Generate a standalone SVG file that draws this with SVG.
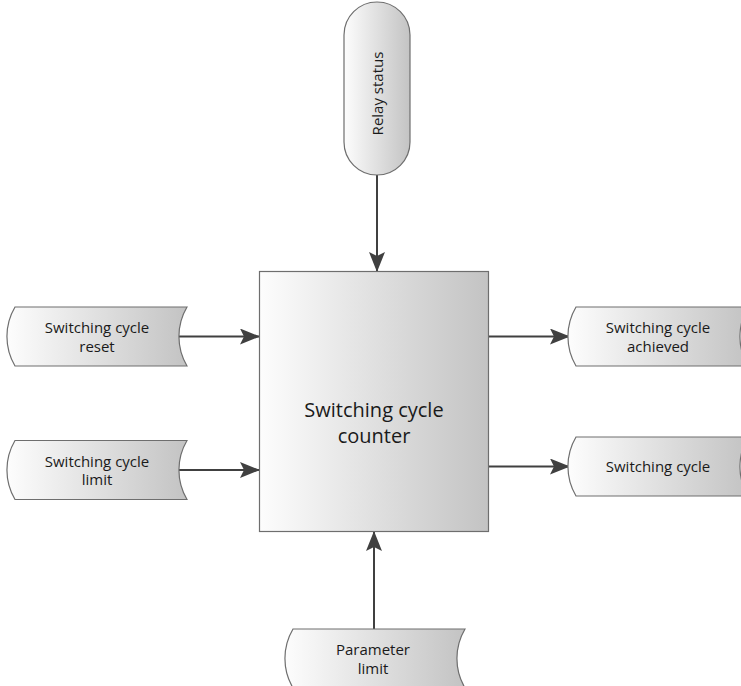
<svg xmlns="http://www.w3.org/2000/svg" width="741" height="686" viewBox="0 0 741 686">
<defs>
<linearGradient id="g" x1="0" y1="0" x2="1" y2="0">
<stop offset="0" stop-color="#fdfdfd"/>
<stop offset="1" stop-color="#c3c3c3"/>
</linearGradient>
<marker id="ah" markerUnits="userSpaceOnUse" viewBox="0 0 20 16" refX="19" refY="8" markerWidth="20" markerHeight="16" orient="auto">
<path d="M0,0 L20,8 L0,16 L4,8 Z" fill="#404040"/>
</marker>
<path id="io" d="M15,0 L187,0 A58,58 0 0 0 187,59 L15,59 A58,58 0 0 1 15,0 Z"/>
</defs>
<style>
.sh{fill:url(#g);stroke:#6e6e6e;stroke-width:1.2}
.t{font-family:"Open Sans","Noto Sans",sans-serif;font-size:15px;fill:#1a1a1a;text-anchor:middle}
.big{font-size:20px}
.c{stroke:#404040;stroke-width:2;fill:none;marker-end:url(#ah)}
</style>
<g id="connectors">
<line class="c" x1="377" y1="175" x2="377" y2="271"/>
<line class="c" x1="179" y1="336.5" x2="259" y2="336.5"/>
<line class="c" x1="179" y1="470" x2="259" y2="470"/>
<line class="c" x1="489" y1="336.5" x2="569" y2="336.5"/>
<line class="c" x1="489" y1="466.5" x2="569" y2="466.5"/>
<line class="c" x1="374" y1="629" x2="374" y2="532"/>
</g>
<g id="relay-status">
<rect class="sh" x="344" y="2" width="66" height="173" rx="33" ry="33"/>
<text class="t" transform="translate(382.5,93.5) rotate(-90)">Relay status</text>
</g>
<g id="counter">
<rect class="sh" x="259.5" y="271.5" width="229" height="260"/>
<text class="t big" x="374" y="417">Switching cycle</text>
<text class="t big" x="374" y="443">counter</text>
</g>
<g id="reset">
<use href="#io" class="sh" x="0" y="307"/>
<text class="t" x="97" y="333">Switching cycle</text>
<text class="t" x="97" y="351.5">reset</text>
</g>
<g id="limit">
<use href="#io" class="sh" x="0" y="440.5"/>
<text class="t" x="97" y="466.5">Switching cycle</text>
<text class="t" x="97" y="485">limit</text>
</g>
<g id="achieved">
<use href="#io" class="sh" x="561" y="307"/>
<text class="t" x="658" y="333">Switching cycle</text>
<text class="t" x="658" y="351.5">achieved</text>
</g>
<g id="cycle">
<use href="#io" class="sh" x="561" y="437"/>
<text class="t" x="658" y="471.5">Switching cycle</text>
</g>
<g id="parameter-limit">
<use href="#io" class="sh" x="278" y="629"/>
<text class="t" x="373" y="655">Parameter</text>
<text class="t" x="373" y="673.5">limit</text>
</g>
</svg>
